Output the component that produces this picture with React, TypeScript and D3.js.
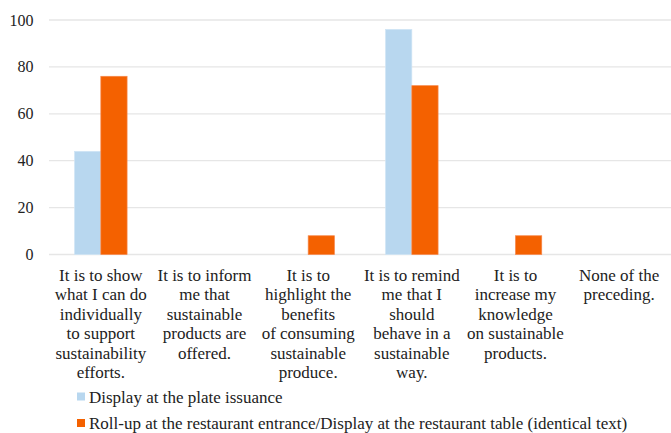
import React from "react";
import * as d3 from "d3";

const categories: string[][] = [
  ["It is to show", "what I can do", "individually", "to support", "sustainability", "efforts."],
  ["It is to inform", "me that", "sustainable", "products are", "offered."],
  ["It is to", "highlight the", "benefits", "of consuming", "sustainable", "produce."],
  ["It is to remind", "me that I", "should", "behave in a", "sustainable", "way."],
  ["It is to", "increase my", "knowledge", "on sustainable", "products."],
  ["None of the", "preceding."],
];
const seriesNames = [
  "Display at the plate issuance",
  "Roll-up at the restaurant entrance/Display at the restaurant table (identical text)",
];
const plateValues = [44, 0, 0, 96, 0, 0];
const rollupValues = [76, 0, 8, 72, 8, 0];
const yTicks = [0, 20, 40, 60, 80, 100];
const colors = ["#b8d7ef", "#f46100"];

const FF = "Liberation Serif, serif";

export default function App() {
  const W = 671, H = 433;
  const left = 49, right = 671, top = 20, bottom = 254.5;
  const x = d3.scaleBand<number>().domain(d3.range(categories.length)).range([left, right]).paddingInner(0).paddingOuter(0);
  const inner = d3.scaleBand<number>().domain([0, 1]).range([0, 52.5]);
  const y = d3.scaleLinear().domain([0, 100]).range([bottom, top]);
  const series = [plateValues, rollupValues];
  return (
    <svg width={W} height={H} style={{ position: "absolute", left: 0, top: 0, background: "#fff" }}>
      {yTicks.map((t) => (
        <g key={t}>
          <line x1={left} x2={right} y1={y(t)} y2={y(t)} stroke="#e6e6e6" strokeWidth={1.3} />
          <text x={33.5} y={y(t) + 5.5} textAnchor="end" fontSize={16} fontFamily={FF} fill="#222">{t}</text>
        </g>
      ))}
      {series.map((vals, s) =>
        vals.map((v, i) =>
          v > 0 ? (
            <rect
              key={`${s}-${i}`}
              x={(x(i) as number) + x.bandwidth() / 2 - 26.25 + (inner(s) as number)}
              y={y(v)}
              width={inner.bandwidth()}
              height={y(0) - y(v)}
              fill={colors[s]}
              stroke={s === 0 ? "#cfe4f5" : "#f7874a"}
              strokeWidth={0.7}
            />
          ) : null
        )
      )}
      {categories.map((lines, i) => (
        <text key={i} textAnchor="middle" fontSize={17} fontFamily={FF} fill="#222">
          {lines.map((ln, k) => (
            <tspan key={k} x={(x(i) as number) + x.bandwidth() / 2} y={281 + k * 19.4}>{ln}</tspan>
          ))}
        </text>
      ))}
      {seriesNames.map((n, s) => (
        <g key={n}>
          <rect x={77} y={392.5 + s * 26.5} width={8} height={8} fill={colors[s]} />
          <text x={89} y={402.5 + s * 26.5} fontSize={17} fontFamily={FF} fill="#222">{n}</text>
        </g>
      ))}
    </svg>
  );
}
